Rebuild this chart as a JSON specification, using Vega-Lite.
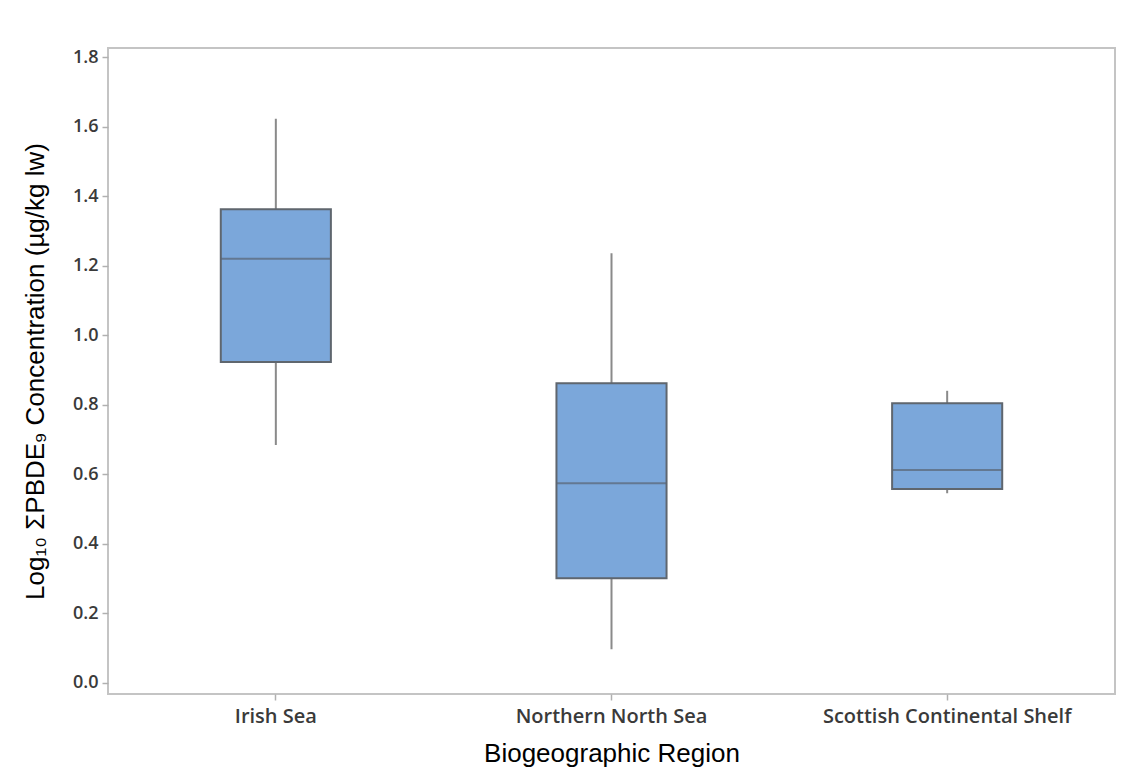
{
  "$schema": "https://vega.github.io/schema/vega-lite/v6.json",
  "width": 1007,
  "height": 646,
  "autosize": "none",
  "padding": {"left": 108, "top": 48, "right": 19, "bottom": 86},
  "background": "white",
  "config": {
    "view": {"stroke": "#c4c4c4", "strokeWidth": 2},
    "axis": {"grid": false, "domain": false, "tickColor": "#b0b0b0", "tickSize": 6, "tickWidth": 1.5, "labelLimit": 0}
  },
  "data": {
    "values": [
      {"region": "Irish Sea", "lower": 0.684, "q1": 0.923, "median": 1.22, "q3": 1.363, "upper": 1.623},
      {"region": "Northern North Sea", "lower": 0.096, "q1": 0.3, "median": 0.574, "q3": 0.862, "upper": 1.236},
      {"region": "Scottish Continental Shelf", "lower": 0.545, "q1": 0.557, "median": 0.612, "q3": 0.804, "upper": 0.84}
    ]
  },
  "encoding": {
    "x": {
      "field": "region",
      "type": "nominal",
      "sort": null,
      "scale": {"paddingInner": 0.672, "paddingOuter": 0.336},
      "axis": {
        "labelAngle": 0,
        "labelFont": "Open Sans",
        "labelFontSize": 20,
        "labelFontWeight": 600,
        "labelColor": "#3a3a3a",
        "labelPadding": 6,
        "title": "Biogeographic Region",
        "titleFont": "Liberation Sans",
        "titleFontSize": 26,
        "titleFontWeight": "normal",
        "titleColor": "#000000",
        "titlePadding": 14
      }
    }
  },
  "layer": [
    {
      "mark": {"type": "rule", "color": "#8a8a8a", "strokeWidth": 2},
      "encoding": {
        "y": {
          "field": "lower",
          "type": "quantitative",
          "scale": {"domain": [-0.033, 1.827], "nice": false, "zero": false},
          "axis": {
            "values": [0, 0.2, 0.4, 0.6, 0.8, 1.0, 1.2, 1.4, 1.6, 1.8],
            "format": ".1f",
            "labelFont": "Open Sans",
            "labelFontSize": 18,
            "labelFontWeight": 600,
            "labelColor": "#3a3a3a",
            "labelPadding": 4,
            "title": "Log₁₀ ΣPBDE₉ Concentration (µg/kg lw)",
            "titleFont": "Liberation Sans",
            "titleFontSize": 26,
            "titleFontWeight": "normal",
            "titleColor": "#000000",
            "titlePadding": 24
          }
        },
        "y2": {"field": "upper"}
      }
    },
    {
      "mark": {"type": "bar", "fill": "#7ba7da", "stroke": "#5f666e", "strokeWidth": 2},
      "encoding": {
        "y": {"field": "q1", "type": "quantitative"},
        "y2": {"field": "q3"}
      }
    },
    {
      "mark": {"type": "tick", "color": "#5a6472", "thickness": 2, "size": 110},
      "encoding": {
        "y": {"field": "median", "type": "quantitative"}
      }
    }
  ]
}
